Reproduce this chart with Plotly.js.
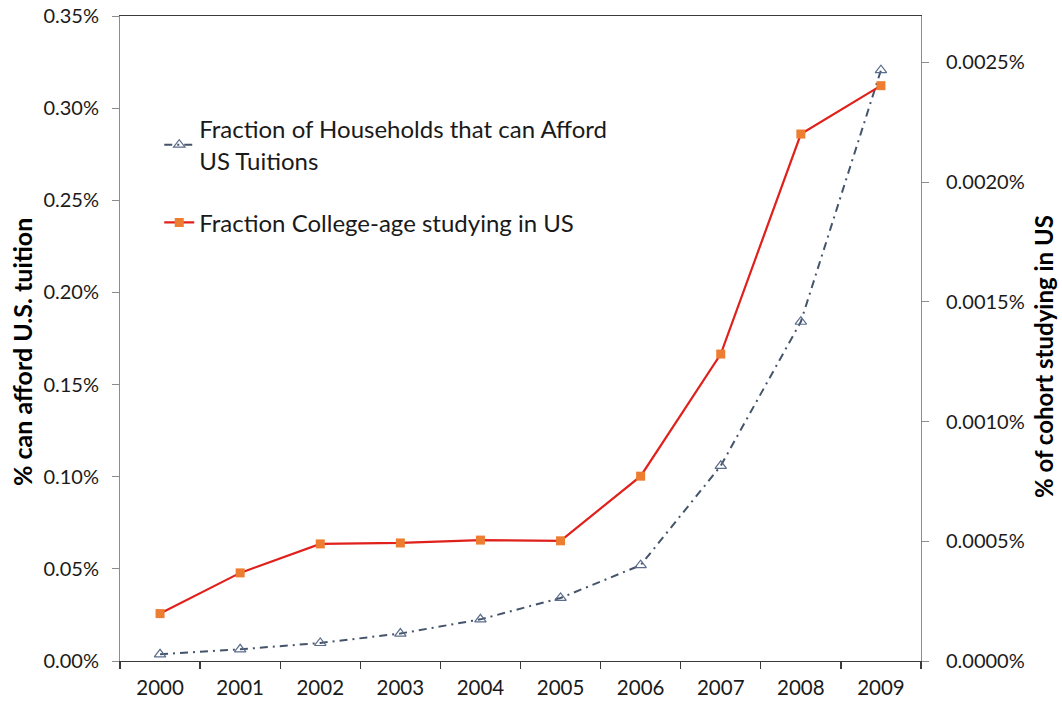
<!DOCTYPE html>
<html>
<head>
<meta charset="utf-8">
<script src="https://cdn.plot.ly/plotly-3.0.1.min.js"></script>
<style>html,body{margin:0;padding:0;background:#fff;}#chart{width:1062px;height:706px;}</style>
</head>
<body>
<div id="chart"></div>
<script>
// Data (fractions; displayed as percentages)
const years = ['2000','2001','2002','2003','2004','2005','2006','2007','2008','2009'];
const householdsAfford = [0.0000364, 0.0000635, 0.0000978, 0.000149, 0.000226, 0.000342, 0.000520, 0.001059, 0.001841, 0.003206];
const collegeAgeInUS = [0.00000198, 0.00000368, 0.00000489, 0.00000493, 0.00000505, 0.00000502, 0.00000772, 0.00001282, 0.00002201, 0.00002403];
const seriesNames = ['Fraction of Households that can Afford<br>US Tuitions', 'Fraction College-age studying in US'];
const leftTitle = '% can afford U.S. tuition';
const rightTitle = '% of cohort studying in US';

const FONT = 'Lato, "Open Sans", sans-serif';

const traces = [
  {
    x: years, y: householdsAfford, name: seriesNames[0], type: 'scatter', mode: 'lines+markers',
    yaxis: 'y', legendgroup: 'g1',
    line: {color: '#44546a', width: 2, dash: '8px,5px,2px,5px'},
    marker: {symbol: 'triangle-up-open', size: 10, color: '#5b6c8c', line: {width: 1.2, color: '#5b6c8c'}}
  },
  {
    x: years, y: collegeAgeInUS, name: seriesNames[1], type: 'scatter', mode: 'lines+markers',
    yaxis: 'y2', legendgroup: 'g2',
    line: {color: '#e0201b', width: 2.2},
    marker: {symbol: 'square', size: 9, color: '#ed7d31', line: {width: 0}}
  }
];

const layout = {
  width: 1062, height: 706,
  margin: {l: 120, r: 141, t: 16, b: 45},
  paper_bgcolor: '#fff', plot_bgcolor: '#fff',
  font: {family: FONT, size: 20, color: '#1a1a1a'},
  showlegend: true,
  legend: {
    x: 0.049, y: 0.859, xanchor: 'left', yanchor: 'top',
    bgcolor: 'rgba(0,0,0,0)', font: {family: FONT, size: 24, color: '#1a1a1a'},
    tracegroupgap: 28, itemwidth: 30
  },
  xaxis: {
    type: 'category', tickson: 'boundaries', range: [-0.5, 9.5],
    showgrid: false, zeroline: false,
    showline: true, linecolor: '#3a3a3a', linewidth: 1.3, mirror: true,
    ticks: 'outside', ticklen: 7, tickcolor: '#3a3a3a', tickwidth: 1.3,
    tickfont: {family: FONT, size: 20.5, color: '#1a1a1a'},
    ticklabelstandoff: 8
  },
  yaxis: {
    range: [0, 0.0035], dtick: 0.0005, tick0: 0, tickformat: '.2%',
    showgrid: false, zeroline: false,
    showline: true, linecolor: '#8c8c8c', linewidth: 1,
    ticks: 'outside', ticklen: 7, tickcolor: '#8c8c8c',
    tickfont: {family: FONT, size: 20, color: '#1a1a1a'},
    ticklabelstandoff: 9
  },
  yaxis2: {
    overlaying: 'y', side: 'right',
    range: [0, 0.00002694], dtick: 0.000005, tick0: 0, tickformat: '.4%',
    showgrid: false, zeroline: false,
    showline: true, linecolor: '#8c8c8c', linewidth: 1,
    ticks: 'outside', ticklen: 7, tickcolor: '#8c8c8c',
    tickfont: {family: FONT, size: 20, color: '#1a1a1a'},
    ticklabelstandoff: 13
  },
  annotations: [
    {text: leftTitle, xref: 'paper', yref: 'paper', x: -0.1223, y: 0.479, textangle: -90,
     showarrow: false, xanchor: 'center', yanchor: 'middle',
     font: {family: FONT, size: 25, color: '#000', weight: 'bold'}},
    {text: rightTitle, xref: 'paper', yref: 'paper', x: 1.153, y: 0.472, textangle: -90,
     showarrow: false, xanchor: 'center', yanchor: 'middle',
     font: {family: FONT, size: 24, color: '#000', weight: 'bold'}}
  ]
};

Plotly.newPlot('chart', traces, layout, {displayModeBar: false, staticPlot: true});
</script>
</body>
</html>
